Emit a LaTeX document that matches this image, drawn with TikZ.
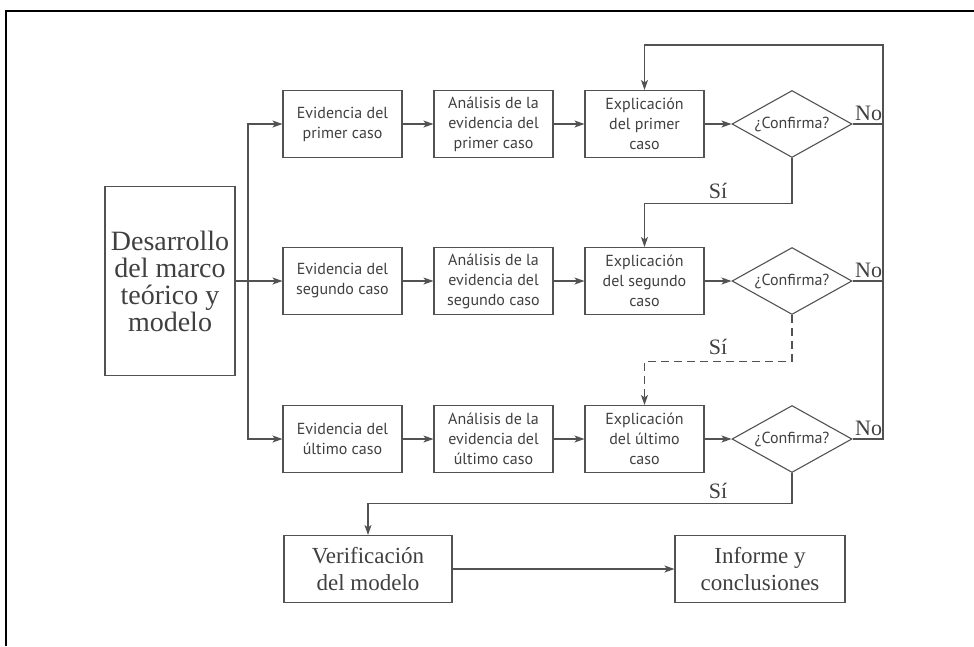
\documentclass[tikz,border=0pt]{standalone}
\usepackage{fontspec}
\setmainfont{Liberation Serif}
\newfontfamily\boxfont{PT Sans}
\usetikzlibrary{arrows.meta,shapes.geometric,calc}

\begin{document}
\begin{tikzpicture}[x=1pt,y=-1pt,
  ink/.style={draw=black!68, line width=1.1pt},
  flow/.style={ink, -{Stealth[length=10pt,width=7pt,inset=2.5pt]}},
  smallbox/.style={ink, minimum width=119pt, minimum height=67pt, inner sep=0pt,
    align=center, font=\boxfont\fontsize{16}{20}\selectfont, text=black!75},
  bigbox/.style={ink, inner sep=0pt, align=center, text=black!75},
  decision/.style={ink, diamond, minimum width=120pt, minimum height=67pt, inner sep=0pt},
  dtext/.style={font=\boxfont\fontsize{16}{20}\selectfont, text=black!75, inner sep=0pt},
  lbl/.style={font=\fontsize{22}{22}\selectfont, text=black!75, inner sep=0pt, anchor=base}
]
\useasboundingbox (0,0) rectangle (974,646);

% open frame (left and top sides)
\draw[black, line width=2pt] (6,646) -- (6,11) -- (974,11);

% theory box
\node[bigbox, font=\fontsize{28}{27}\selectfont, minimum width=130pt, minimum height=189pt]
  (dev) at (170,281) {Desarrollo\\del marco\\teórico y\\modelo};

% evidence
\node[smallbox] (e1) at (342.5,124) {Evidencia del\\primer caso};
\node[smallbox] (e2) at (342.5,281) {Evidencia del\\segundo caso};
\node[smallbox] (e3) at (342.5,439) {Evidencia del\\último caso};

% analysis
\node[smallbox] (a1) at (493.5,124) {Análisis de la\\evidencia del\\primer caso};
\node[smallbox] (a2) at (493.5,281) {Análisis de la\\evidencia del\\segundo caso};
\node[smallbox] (a3) at (493.5,439) {Análisis de la\\evidencia del\\último caso};

% explanation
\node[smallbox] (x1) at (644.5,124) {Explicación\\del primer\\caso};
\node[smallbox] (x2) at (644.5,281) {Explicación\\del segundo\\caso};
\node[smallbox] (x3) at (644.5,439) {Explicación\\del último\\caso};

% decisions
\node[decision] (d1) at (792,124) {};
\node[decision] (d2) at (792,281) {};
\node[decision] (d3) at (792,439) {};
\node[dtext] (t1) at (d1.center) {¿Confirma?};
\node[dtext] (t2) at (d2.center) {¿Confirma?};
\node[dtext] (t3) at (d3.center) {¿Confirma?};

% final boxes
\node[bigbox, font=\fontsize{23}{27}\selectfont, minimum width=168pt, minimum height=67pt]
  (ver) at (368,569) {Verificación\\del modelo};
\node[bigbox, font=\fontsize{23}{27}\selectfont, minimum width=170pt, minimum height=67pt]
  (inf) at (760,569) {Informe y\\conclusiones};

% distribution from the theory box
\coordinate (split) at (248,281);
\draw[flow] (dev.east) -- (e2.west);
\draw[flow] (split) |- (e1.west);
\draw[flow] (split) |- (e3.west);

% row connectors
\foreach \r in {1,2,3}{
  \draw[flow] (e\r.east) -- (a\r.west);
  \draw[flow] (a\r.east) -- (x\r.west);
  \draw[flow] (x\r.east) -- (d\r.west);
}

% "No" return loop
\coordinate (ret) at (883,45);
\draw[flow] (d3.east) -| (ret) -| (x1.north);
\draw[ink] (d1.east) -- (d1.east -| ret);
\draw[ink] (d2.east) -- (d2.east -| ret);
\node[lbl] (n1) at ($(d1.east)+(16,-4)$) {No};
\node[lbl] (n2) at ($(d2.east)+(16,-4)$) {No};
\node[lbl] (n3) at ($(d3.east)+(16,-4)$) {No};

% "Sí" continuations
\draw[flow] (d1.south) -- ++(0,45) -| (x2.north);
\draw[flow, dashed, dash pattern=on 8pt off 5pt] (d2.south) -- ++(0,46) -| (x3.north);
\draw[flow] (d3.south) -- ++(0,30) -| (ver.north);
\node[lbl] (s1) at ($(d1.south)+(-74,40.5)$) {Sí};
\node[lbl] (s2) at ($(d2.south)+(-74,39.5)$) {Sí};
\node[lbl] (s3) at ($(d3.south)+(-74,25.5)$) {Sí};

% to the report
\draw[flow] (ver) -- (inf);
\end{tikzpicture}
\end{document}
